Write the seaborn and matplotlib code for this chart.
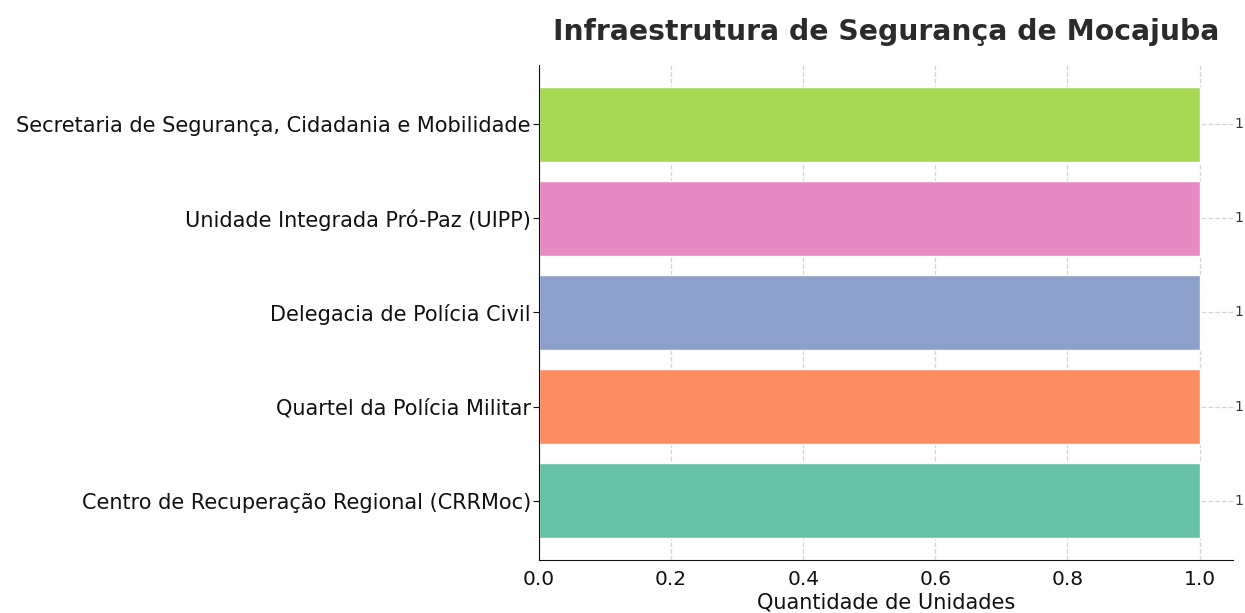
import matplotlib
matplotlib.use("Agg")
import matplotlib.pyplot as plt
import seaborn as sns
import pandas as pd

categories = [
    "Secretaria de Segurança, Cidadania e Mobilidade",
    "Unidade Integrada Pró-Paz (UIPP)",
    "Delegacia de Polícia Civil",
    "Quartel da Polícia Militar",
    "Centro de Recuperação Regional (CRRMoc)",
]
values = [1, 1, 1, 1, 1]
colors = ["#a6d854", "#e78ac3", "#8da0cb", "#fc8d62", "#66c2a5"]

sns.set_style("white")
plt.rcParams['font.family'] = ['DejaVu Sans']

df = pd.DataFrame({"cat": categories, "val": values})

fig = plt.figure(figsize=(12.45, 6.13), dpi=100)
ax = fig.add_axes([0.433, 0.0865, 0.557, 0.8075])
sns.barplot(data=df, x="val", y="cat", hue="cat", order=categories,
            palette=dict(zip(categories, colors)), width=0.8, legend=False,
            saturation=1, ax=ax)
ax.set_xlim(0, 1.05)
ax.set_ylim(4.63, -0.63)
ax.grid(True, linestyle="--", color="#d4d4d4", linewidth=0.9)
ax.set_axisbelow(True)
for i, v in enumerate(values):
    ax.text(v + 0.053, i, str(v), va="center", ha="left", fontsize=10, color="#333333")
for s in ["top", "right"]:
    ax.spines[s].set_visible(False)
ax.spines["left"].set_color("#111111")
ax.spines["bottom"].set_color("#111111")
ax.tick_params(axis="y", left=True, length=4, pad=2, labelsize=15, color="#111111",
               labelcolor="#111111")
ax.tick_params(axis="x", bottom=False, labelsize=14.5, labelcolor="#111111", pad=4)
ax.set_ylabel("")
ax.set_xlabel("Quantidade de Unidades", fontsize=15, labelpad=2, color="#111111")
ax.set_title("Infraestrutura de Segurança de Mocajuba", fontsize=20.3, fontweight="bold",
             color="#2b2b2b", pad=18)
fig.savefig("out.png", dpi=100)
